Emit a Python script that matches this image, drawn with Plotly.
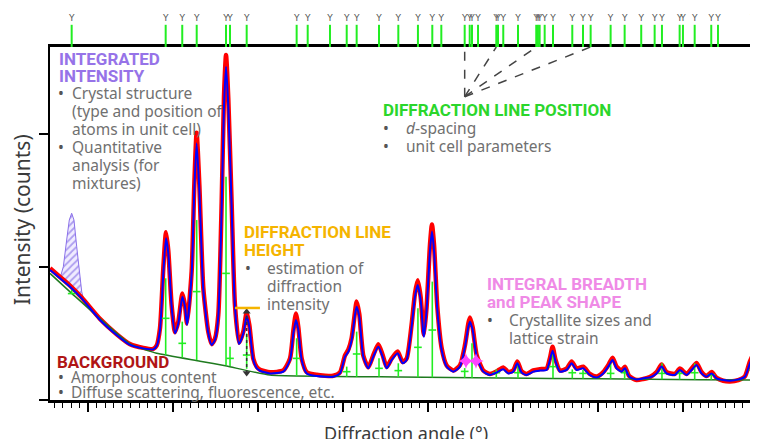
import plotly.graph_objects as go

# ---------------- data ----------------
calc_x = [5.5, 6.68, 7.85, 9.23, 11.38, 13.34, 14.91, 16.48, 17.66, 18.05, 18.44, 18.83, 19.15, 19.42,
          19.81, 20.21, 20.6, 21.07, 21.38, 21.62, 22.17, 22.48, 22.75, 23.07, 23.54, 24.13, 24.52,
          24.91, 25.3, 25.7, 25.97, 26.21, 26.48, 26.87, 27.26, 27.74, 28.25, 28.64, 28.95, 29.42,
          29.81, 30.21, 31.38, 32.95, 33.74, 34.13, 34.44, 34.72, 35.11, 35.7, 36.87, 38.83, 39.62,
          40.21, 40.6, 40.99, 41.38, 41.58, 41.89, 42.36, 42.95, 43.54, 44.13, 44.64, 45.11, 45.7,
          46.4, 46.99, 47.46, 48.05, 48.44, 48.76, 49.11, 49.42, 49.5, 49.81, 50.21, 50.44, 50.68,
          51.07, 51.58, 52.17, 52.95, 53.74, 54.33, 54.72, 54.91, 55.23, 55.7, 56.48, 57.26, 58.04,
          58.83, 59.42, 60.0, 60.48, 60.99, 61.57, 62.36, 63.14, 63.93, 64.32, 64.63, 64.99, 65.49,
          66.28, 66.87, 67.46, 68.24, 69.02, 69.81, 70.59, 71.18, 71.69, 72.16, 72.75, 73.14, 73.65,
          74.51, 75.3, 76.08, 76.87, 77.46, 78.04, 79.02, 79.61, 80.4, 80.99, 81.57, 82.16, 82.75,
          83.34, 83.93, 84.71, 85.5, 86.48, 87.26, 87.85, 88.44, 88.79]
calc_y = [977, 915, 852, 764, 602, 489, 414, 388, 381, 406, 526, 952, 1216, 1103,
          702, 501, 576, 777, 702, 564, 952, 1579, 1930, 1579, 827, 501, 414,
          451, 627, 1454, 2206, 2506, 2206, 1454, 702, 421, 501, 632, 551, 301,
          240, 220, 200, 213, 301, 501, 602, 526, 301, 200, 180, 175, 200,
          326, 363, 451, 639, 702, 627, 326, 238, 326, 401, 326, 238, 301,
          351, 276, 301, 551, 777, 865, 752, 501, 476, 677, 1128, 1266, 1128,
          677, 376, 251, 213, 251, 401, 551, 589, 526, 326, 213, 188, 206,
          231, 200, 213, 276, 206, 188, 213, 221, 226, 301, 371, 288, 213,
          226, 276, 226, 238, 188, 170, 200, 251, 301, 238, 213, 238, 175,
          155, 163, 170, 200, 251, 200, 188, 226, 188, 226, 263, 200, 175,
          200, 163, 150, 145, 155, 175, 276, 351, 363]

obs_x = list(calc_x)
obs_y = [990, 925, 860, 770, 610, 495, 420, 392, 384, 410, 540, 990, 1262, 1120,
         712, 510, 590, 800, 712, 575, 970, 1620, 2010, 1620, 840, 510, 420,
         460, 640, 1490, 2280, 2594, 2260, 1480, 715, 430, 515, 660, 565, 310,
         250, 228, 208, 222, 312, 520, 650, 545, 312, 210, 190, 182, 208,
         335, 378, 465, 660, 740, 645, 335, 246, 338, 420, 338, 248, 312,
         365, 285, 312, 570, 800, 900, 775, 515, 490, 700, 1170, 1320, 1170,
         700, 390, 260, 222, 262, 415, 575, 620, 545, 338, 222, 196, 215,
         245, 210, 222, 290, 215, 196, 222, 232, 236, 315, 400, 300, 222,
         236, 290, 236, 250, 196, 176, 210, 262, 318, 250, 222, 250, 180,
         150, 158, 172, 210, 266, 210, 196, 236, 196, 236, 278, 210, 180,
         210, 166, 145, 140, 150, 178, 290, 365, 375]

bg_x = [5.5, 8.05, 14.91, 18.05, 23.15, 26.28, 31.38, 46.68, 58.44, 70.2, 81.97, 88.8]
bg_y = [952, 802, 421, 351, 292, 255, 188, 173, 165, 160, 152, 150]

stick_x = [8.05, 19.11, 21.06, 22.76, 26.21, 26.68, 28.64, 34.52, 40.41, 41.58, 44.21, 46.48,
           48.79, 50.48, 54.29, 55.15, 58.01, 60.56, 64.68, 66.95, 68.21, 71.46, 73.11, 77.5,
           79.58, 81.35, 83.3, 88.21]
stick_base = [800, 340, 320, 300, 262, 255, 235, 182, 175, 175, 174, 173,
              171, 170, 168, 167, 165, 164, 163, 162, 161, 160, 158, 156,
              154, 153, 152, 150]
stick_top = [830, 915, 589, 1353, 1679, 401, 500, 464, 251, 514, 313, 276,
             689, 890, 240, 426, 230, 276, 351, 230, 225, 276, 230, 276,
             215, 276, 200, 276]
stick_cross = [800, 614, 426, 815, 952, 313, 338, 313, 213, 346, 238, 221,
               396, 526, 215, 293, 205, 205, 251, 205, 200, 200, 205, 200,
               200, 205, 190, 226]

marker_x = [8.05, 19.11, 21.06, 22.76, 26.21, 26.68, 28.64, 34.52, 35.82, 38.44, 40.41, 41.58,
            44.21, 46.48, 48.79, 50.48, 51.54, 54.29, 54.88, 55.15, 55.86, 58.01, 58.21, 58.83,
            60.56, 62.71, 62.91, 63.11, 63.70, 64.68, 66.95, 68.21, 69.11, 71.46, 73.11, 75.06,
            76.64, 77.50, 79.58, 79.97, 81.35, 83.30, 84.09, 88.21, 88.48]

hatch_x = [6.68, 7.07, 7.46, 7.77, 8.05, 8.32, 8.64, 8.95, 9.23, 9.42, 9.23, 7.85, 6.68]
hatch_y = [915, 1002, 1203, 1353, 1404, 1353, 1153, 952, 815, 764, 764, 852, 915]

position_lines_x = [54.29, 58.01, 62.71, 69.11]
position_anchor_y = 2280

height_peak_x = 28.64
height_peak_y = [203, 664]
height_bar_x = [27.26, 30.2]
height_bar_y = 692

breadth_x = [54.44, 55.62]
breadth_y = [293, 293]

X_RANGE = [5.5, 88.8]
Y_RANGE = [0, 2654]

# ---------------- figure ----------------
fig = go.Figure()

fig.add_trace(go.Scatter(x=hatch_x, y=hatch_y, mode='lines', fill='toself',
                         line=dict(color='#8a70ea', width=1),
                         fillcolor='rgba(255,255,255,0)',
                         fillpattern=dict(shape='/', fgcolor='#6a50e0', bgcolor='rgba(240,236,255,1)',
                                          size=5, solidity=0.35),
                         hoverinfo='skip'))

fig.add_trace(go.Scatter(x=obs_x, y=obs_y, mode='lines',
                         line=dict(color='#ff0000', width=4.5, shape='spline', smoothing=0.6)))

fig.add_trace(go.Scatter(x=bg_x, y=bg_y, mode='lines',
                         line=dict(color='#1f7a1f', width=1.5, shape='spline', smoothing=0.4)))

sx, sy = [], []
for x, b, t in zip(stick_x, stick_base, stick_top):
    sx += [x, x, None]
    sy += [b, t, None]
for x, c in zip(stick_x, stick_cross):
    sx += [x - 0.45, x + 0.45, None]
    sy += [c, c, None]
fig.add_trace(go.Scatter(x=sx, y=sy, mode='lines', line=dict(color='#22ee22', width=1.6)))

fig.add_trace(go.Scatter(x=calc_x, y=calc_y, mode='lines',
                         line=dict(color='#0000ff', width=2, shape='spline', smoothing=0.6)))

mx, my = [], []
for m in marker_x:
    mx += [m, m, None]
    my += [0, 0.6, None]
fig.add_trace(go.Scatter(x=mx, y=my, mode='lines', line=dict(color='#22ee22', width=2),
                         xaxis='x', yaxis='y2'))
fig.add_trace(go.Scatter(x=marker_x, y=[0.76] * len(marker_x), mode='text', text=['Y'] * len(marker_x),
                         textfont=dict(size=9, color='#555555', family='DejaVu Sans'),
                         xaxis='x', yaxis='y2'))

px_, py_ = [], []
for m in position_lines_x:
    px_ += [position_lines_x[0], m, None]
    py_ += [position_anchor_y, Y_RANGE[1], None]
fig.add_trace(go.Scatter(x=px_, y=py_, mode='lines', line=dict(color='#444444', width=1.5, dash='dash')))

fig.add_trace(go.Scatter(x=[height_peak_x, height_peak_x], y=height_peak_y, mode='lines+markers',
                         line=dict(color='#333333', width=1.5, dash='dot'),
                         marker=dict(symbol=['triangle-down', 'triangle-up'], size=7, color='#333333')))
fig.add_trace(go.Scatter(x=height_bar_x, y=[height_bar_y, height_bar_y], mode='lines',
                         line=dict(color='#f5b400', width=2.5)))

fig.add_trace(go.Scatter(x=breadth_x, y=breadth_y, mode='markers',
                         marker=dict(symbol='star-diamond', size=11, color='#ff44ff')))

# The page body has an 8 px margin, so the figure is laid out 8 px smaller/offset.
OFF = 8
W, H = 758 - OFF, 439 - OFF
PL, PT, PB = 50, 10, 400          # page pixel positions of plot left / top / bottom
ML, MT = PL - OFF, PT - OFF
MB = H - (PB - OFF)
MR = 0
PW, PH = W - ML - MR, H - MT - MB


def P(px, py):
    return (px - PL) / PW, (PB - py) / PH


annotations = []


def txt(px, py, s, size, color, bold=False, family='Noto Sans', anchor='left'):
    x, y = P(px, py)
    annotations.append(dict(x=x, y=y, xref='paper', yref='paper', text=(f'<b>{s}</b>' if bold else s),
                            showarrow=False, xanchor=anchor, yanchor='middle',
                            font=dict(size=size, color=color, family=family)))


HEAD = 'Roboto'
BODY_C = '#707070'
BS = 15.5

txt(57, 59, 'INTEGRATED', 17, '#9673e8', True, HEAD)
txt(57, 76, 'INTENSITY', 17, '#9673e8', True, HEAD)
for py in (93, 147):
    txt(56, py, '•', BS, '#555555')
for py, s in zip([93, 111, 129, 147, 165, 183],
                 ['Crystal structure', '(type and position of', 'atoms in unit cell)',
                  'Quantitative', 'analysis (for', 'mixtures)']):
    txt(70, py, s, BS, BODY_C)

txt(381, 110, 'DIFFRACTION LINE POSITION', 17, '#2bd62b', True, HEAD)
for py in (128, 146):
    txt(381, py, '•', BS, '#555555')
txt(404, 128, '<i>d</i>-spacing', BS, BODY_C)
txt(404, 146, 'unit cell parameters', BS, BODY_C)

txt(242, 232, 'DIFFRACTION LINE', 17, '#f5b400', True, HEAD)
txt(242, 250, 'HEIGHT', 17, '#f5b400', True, HEAD)
txt(243, 268, '•', BS, '#555555')
for py, s in zip([268, 286, 304], ['estimation of', 'diffraction', 'intensity']):
    txt(265, py, s, BS, BODY_C)

txt(485, 284, 'INTEGRAL BREADTH', 17, '#ef8ae6', True, HEAD)
txt(485, 302, 'and PEAK SHAPE', 17, '#ef8ae6', True, HEAD)
txt(485, 320, '•', BS, '#555555')
txt(507, 320, 'Crystallite sizes and', BS, BODY_C)
txt(507, 338, 'lattice strain', BS, BODY_C)

txt(55, 362, 'BACKGROUND', 17, '#b01515', True, HEAD)
for py in (377, 392):
    txt(56, py, '•', BS, '#555555')
txt(69, 377, 'Amorphous content', BS, BODY_C)
txt(69, 392, 'Diffuse scattering, fluorescence, etc.', BS, BODY_C)

x, y = P(406, 419)
annotations.append(dict(x=x, y=y, xref='paper', yref='paper', text='Diffraction angle (°)',
                        showarrow=False, xanchor='center', yanchor='top',
                        font=dict(size=18, color='#3a3a3a', family='Noto Sans')))
x, y = P(22, 220)
annotations.append(dict(x=x, y=y, xref='paper', yref='paper', text='Intensity (counts)',
                        showarrow=False, xanchor='center', yanchor='middle', textangle=-90,
                        font=dict(size=21, color='#3a3a3a', family='Noto Sans')))

main_top = (PB - 47) / PH

fig.update_layout(
    width=W, height=H, margin=dict(l=ML, r=MR, t=MT, b=MB),
    plot_bgcolor='white', paper_bgcolor='white', showlegend=False,
    annotations=annotations,
    xaxis=dict(range=X_RANGE, showline=True, linewidth=2.5, linecolor='black', mirror=True,
               ticks='outside', ticklen=9, tickwidth=1.5, tickcolor='black', tick0=0, dtick=10,
               showticklabels=False, showgrid=False, zeroline=False,
               minor=dict(ticks='outside', ticklen=5, tickwidth=1, tickcolor='black', dtick=1,
                          tick0=0, showgrid=False)),
    yaxis=dict(domain=[0, main_top], range=Y_RANGE, showline=True, linewidth=2, linecolor='black',
               ticks='outside', ticklen=9, tickwidth=1.5, tickcolor='black', dtick=1000,
               showticklabels=False, showgrid=False, zeroline=False),
    yaxis2=dict(domain=[main_top, 1], range=[0, 1], visible=False, anchor='x'),
)

fig.write_html('out.html')
